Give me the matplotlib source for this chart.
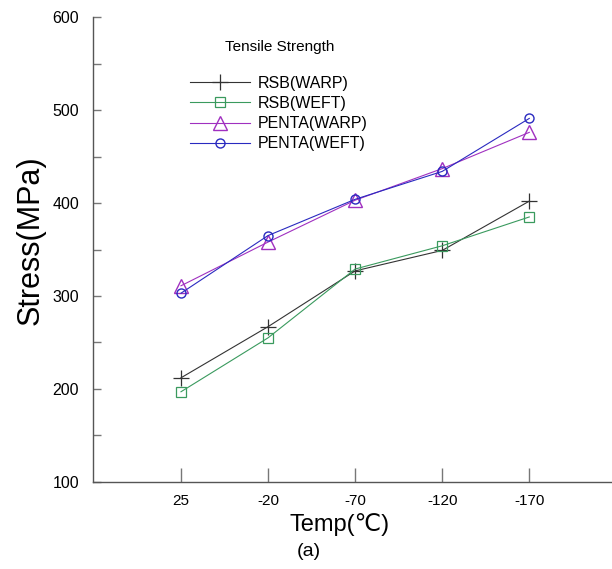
import numpy as np
import matplotlib.pyplot as plt
from matplotlib.ticker import MultipleLocator

plt.rcParams['font.family'] = ['Liberation Sans', 'DejaVu Sans']

# dados
temps = ['25', '-20', '-70', '-120', '-170']
rsb_warp = [212, 267, 327, 349, 402]
rsb_weft = [197, 255, 329, 354, 385]
penta_warp = [311, 358, 403, 437, 476]
penta_weft = [303, 365, 404, 434, 491]

fig = plt.figure(figsize=(6.12, 5.69), dpi=100)
ax = fig.add_axes([0.152, 0.153, 0.848, 0.817])

x = np.arange(len(temps))
ax.plot(x, rsb_warp, '-', marker='+', color='#333333', lw=0.8, ms=11, mew=0.9, label='RSB(WARP)')
ax.plot(x, rsb_weft, '-', marker='s', color='#3a9a5e', lw=0.8, ms=6.5, mfc='none', mew=0.9, label='RSB(WEFT)')
ax.plot(x, penta_warp, '-', marker='^', color='#a030c0', lw=0.8, ms=10, mfc='none', mew=1.0, label='PENTA(WARP)')
ax.plot(x, penta_weft, '-', marker='o', color='#2a2ac0', lw=0.8, ms=6.5, mfc='none', mew=1.0, label='PENTA(WEFT)')

ax.set_xlim(-1.01, 4.95)
ax.set_ylim(100, 600)
ax.set_xticks(x)
ax.set_xticklabels(temps)
ax.yaxis.set_major_locator(MultipleLocator(100))
ax.yaxis.set_minor_locator(MultipleLocator(50))

for s in ['top', 'right']:
    ax.spines[s].set_visible(False)
for s in ['left', 'bottom']:
    ax.spines[s].set_color('#555555')
    ax.spines[s].set_linewidth(1.0)

ax.tick_params(axis='x', direction='in', length=10, width=1, color='#777777',
               labelsize=11, pad=9)
ax.tick_params(axis='y', which='both', direction='in', length=6, width=1,
               color='#777777', labelsize=11.5, pad=10)

ax.set_ylabel('Stress(MPa)', fontsize=22)
ax.yaxis.set_label_coords(-0.092, 0.52)
ax.set_xlabel('Temp(℃)', fontsize=17)
ax.xaxis.set_label_coords(0.476, -0.066)
fig.text(0.505, 0.022, '(a)', fontsize=14, ha='center')

ax.text(0.36, 0.935, 'Tensile Strength', transform=ax.transAxes,
        ha='center', va='center', fontsize=11)
ax.legend(loc='upper left', bbox_to_anchor=(0.187, 0.874), frameon=False,
          fontsize=11.5, handlelength=3.75, labelspacing=0.33,
          handletextpad=0.5, borderpad=0, borderaxespad=0)

fig.savefig('out.png', dpi=100)
